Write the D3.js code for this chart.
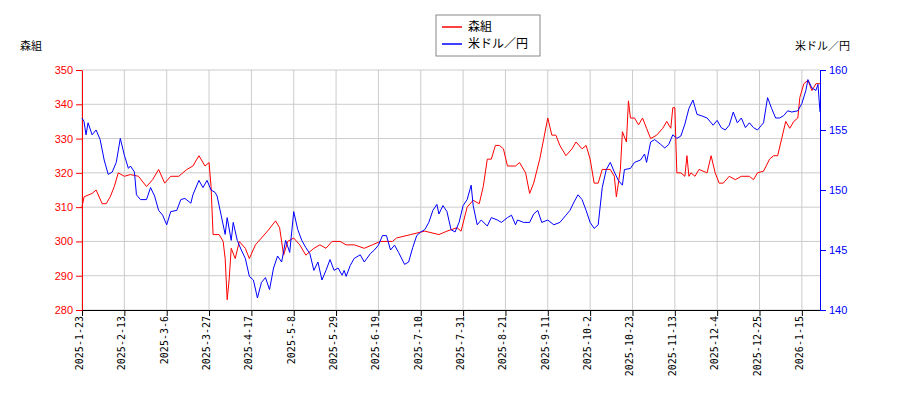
<!DOCTYPE html>
<html><head><meta charset="utf-8">
<script src="https://cdn.jsdelivr.net/npm/d3@7"></script>
<style>body{margin:0;background:#fff;font-family:"Noto Sans CJK JP","DejaVu Sans",sans-serif}</style>
</head><body><svg id="c" width="900" height="400"></svg>
<script>
// days since 2025-01-23
var START = new Date(2025, 0, 23)
var redDays = [0,1,5,7,10,12,14,16,18,21,24,28,32,35,38,41,44,48,52,55,58,61,63,64,65,68,70,71,72,73,74,76,78,81,83,86,89,92,96,98,100,102,105,108,111,115,118,121,124,128,131,135,140,144,148,154,156,163,170,177,181,186,188,191,194,197,199,201,203,205,207,209,211,215,217,220,222,224,227,229,231,233,235,237,240,243,245,248,250,252,254,256,258,262,264,265,267,268,270,271,272,274,276,278,280,282,285,288,290,292,293,294,295,297,299,300,301,302,304,306,310,312,314,316,318,321,324,327,331,333,335,338,341,343,345,347,349,351,353,355,356,358,360,362,364,366]
var redVals = [310,313,314,315,311,311,313,316,320,319,319.5,319,316,318,321,317,319,319,321,322,325,322,323,316,302,302,300,295,283,289,298,295,300,298,295,299,301,303,306,304,296,300,301,299,296,298,299,298,300,300,299,299,298,299,300,300,301,302,303,302,303,304,303,310,312,311,316,324,324,328,328,327,322,322,323,320,314,317,324,330,336,331,331,328,325,327,329,327,328,324,317,317,321,321,319,313,321,332,329,341,336,336,334,336,333,330,331,333,335,333,339,339,320,320,319,325,319,320,319,321,320,325,320,317,317,319,318,319,319,318,320,320.5,324,325,325,330,335,333,335,336,342,346,347,344,346,346]
var blueDays = [0,1,2,3,5,7,9,11,13,15,17,19,21,23,24,26,27,29,32,34,36,38,40,42,44,47,49,51,54,55,58,60,62,64,66,67,69,71,72,74,75,77,79,81,83,85,87,89,91,93,95,97,99,101,103,105,107,109,111,113,115,117,119,121,123,125,127,129,130,131,133,135,138,140,143,145,147,149,151,153,155,157,160,162,164,166,168,170,172,174,176,177,179,181,183,185,187,189,191,193,194,196,198,201,203,206,208,211,213,215,216,219,222,224,226,228,231,234,237,240,242,244,246,248,250,252,254,256,258,260,262,264,266,268,269,272,274,277,279,280,282,284,287,289,291,293,295,297,299,301,303,305,307,310,313,315,317,319,321,323,325,327,329,331,333,335,337,338,340,342,344,346,348,350,352,355,357,359,360,362,364,365,366]
var blueVals = [156,155.7,154.6,155.6,154.6,155,154.2,152.5,151.3,151.5,152.3,154.3,152.9,151.8,152,151.5,149.6,149.2,149.2,150.2,149.5,148.3,147.9,147.1,148.2,148.3,149.2,149.3,148.9,149.6,150.8,150.2,150.8,150,149.8,149.5,147.9,146.3,147.7,145.8,147.3,145.8,145,144.3,142.8,142.5,141,142.3,142.7,141.7,143.5,144.5,144,145.8,144.8,148.2,146.7,145.8,145.2,144.7,143.3,144,142.5,143.3,144.2,143.3,143.5,142.9,143.3,142.8,143.7,144.3,144.6,144,144.7,145,145.4,146.2,146.2,145,145.4,144.8,143.8,144,145.2,146.2,146.5,146.7,147.3,148.3,148.8,148,148.7,148.2,146.7,146.5,147.3,148.7,149.2,150.4,148.7,147.1,147.5,147,147.7,147.5,147.3,147.7,147.9,147.1,147.5,147.3,147.3,148,148.3,147.3,147.5,147.1,147.3,147.9,148.3,149,149.6,149.2,148.3,147.3,146.8,147.1,150.2,151.7,152.3,151.5,150.8,150.4,151.7,151.8,152.3,152.5,153,152.3,154,154.2,153.8,153.5,153.8,154.6,154.3,154.5,155.5,156.8,157.5,156.3,156.2,156,155.4,155.8,155.2,155,155.4,156.5,155.6,156,155.2,155.6,155.2,155,155.4,155.6,157.7,156.8,156,156,156.2,156.6,156.5,156.6,157.2,158.3,159.2,158.5,158.3,158.8,156.5]
var leftTicks = [280,290,300,310,320,330,340,350]
var rightTicks = [140,145,150,155,160]

var svg = d3.select("#c")
var L = 82, R = 820, T = 70, B = 310
function day(d){ return d3.timeDay.offset(START, d) }
var x = d3.scaleTime().domain([START, day(366)]).range([L, R])
var yL = d3.scaleLinear().domain([280, 350]).range([B, T])
var yR = d3.scaleLinear().domain([140, 160]).range([B, T])
var xTicks = d3.range(0, 366, 21).map(day)

// grid
svg.append("g").selectAll("line").data(xTicks).join("line")
	.attr("x1", d => x(d)).attr("x2", d => x(d)).attr("y1", T).attr("y2", B)
	.attr("stroke", "#ccc")
svg.append("g").selectAll("line").data(leftTicks).join("line")
	.attr("x1", L).attr("x2", R).attr("y1", d => yL(d)).attr("y2", d => yL(d))
	.attr("stroke", "#ccc")

var fmt = d3.timeFormat("%Y-%-m-%-d")
var gx = svg.append("g").attr("transform", "translate(0," + B + ")")
	.call(d3.axisBottom(x).tickValues(xTicks).tickFormat(fmt).tickSizeOuter(0))
gx.selectAll("text").attr("transform", "rotate(-90)").attr("x", -6).attr("y", -3)
	.attr("dy", "0.35em").style("text-anchor", "end")
	.style("font-family", "DejaVu Sans Mono, monospace").style("font-size", "10px")

var gl = svg.append("g").attr("transform", "translate(" + L + ",0)")
	.call(d3.axisLeft(yL).tickValues(leftTicks).tickSizeOuter(0))
gl.selectAll("path,line").attr("stroke", "red")
gl.selectAll("text").attr("fill", "red").style("font-size", "11px")
var gr = svg.append("g").attr("transform", "translate(" + R + ",0)")
	.call(d3.axisRight(yR).tickValues(rightTicks).tickSizeOuter(0))
gr.selectAll("path,line").attr("stroke", "blue")
gr.selectAll("text").attr("fill", "blue").style("font-size", "11px")

var redLine = d3.line().x((d, i) => x(day(redDays[i]))).y(d => yL(d))
var blueLine = d3.line().x((d, i) => x(day(blueDays[i]))).y(d => yR(d))
svg.append("path").attr("d", redLine(redVals)).attr("fill", "none").attr("stroke", "red").attr("stroke-width", 1)
svg.append("path").attr("d", blueLine(blueVals)).attr("fill", "none").attr("stroke", "blue").attr("stroke-width", 1)

svg.append("text").attr("x", 20).attr("y", 50).text("森組").style("font-size", "11px")
svg.append("text").attr("x", 850).attr("y", 50).attr("text-anchor", "end").text("米ドル／円").style("font-size", "11px")

// legend
var lg = svg.append("g").attr("transform", "translate(436,15)")
lg.append("rect").attr("width", 104).attr("height", 41).attr("fill", "#fff").attr("stroke", "#888")
var items = [["森組", "red"], ["米ドル／円", "blue"]]
items.forEach(function(it, i){
	lg.append("line").attr("x1", 6).attr("x2", 26).attr("y1", 12 + i*17).attr("y2", 12 + i*17).attr("stroke", it[1]).attr("stroke-width", 1.5)
	lg.append("text").attr("x", 32).attr("y", 16 + i*17).text(it[0]).style("font-size", "12px")
})
</script></body></html>
